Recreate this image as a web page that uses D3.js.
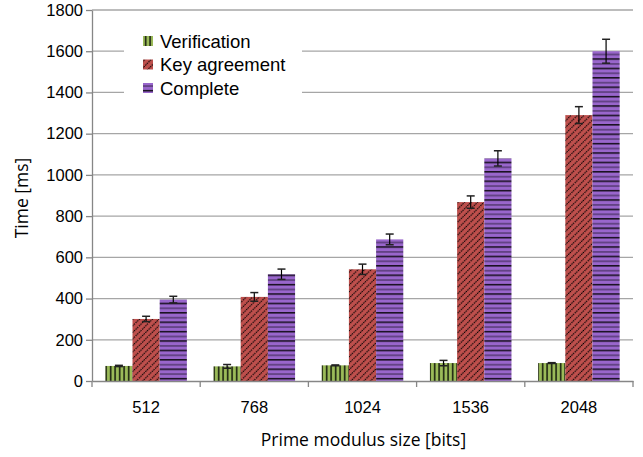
<!DOCTYPE html>
<html>
<head>
<meta charset="utf-8">
<script src="https://cdn.jsdelivr.net/npm/d3@7"></script>
<style>
  body { margin: 0; background: #fff; }
  text { font-family: "Liberation Sans", Arial, sans-serif; fill: #000; }
  .title { font-family: "Open Sans", "Noto Sans", sans-serif; }
</style>
</head>
<body>
<div id="chart"></div>
<script>
let sizes = ["512", "768", "1024", "1536", "2048"];
let seriesNames = ["Verification", "Key agreement", "Complete"];
let verification = [73, 71, 76, 87, 87];
let keyAgreement = [301, 408, 542, 868, 1290];
let complete = [395, 518, 687, 1080, 1600];
let verificationErr = [3, 9, 2, 13, 2];
let keyAgreementErr = [13, 21, 25, 30, 41];
let completeErr = [16, 25, 26, 37, 58];
let yTicks = [0, 200, 400, 600, 800, 1000, 1200, 1400, 1600, 1800];

let dims = { width: 643, height: 457, left: 92, right: 633, top: 10, bottom: 381 }

const svg = d3.select("#chart").append("svg").attr("width", dims.width).attr("height", dims.height);

// patterns
const defs = svg.append("defs");
let pGreen = defs.append("pattern").attr("id", "pat0").attr("patternUnits", "userSpaceOnUse")
  .attr("width", 4.5).attr("height", 10);
pGreen.append("rect").attr("width", 4.5).attr("height", 10).attr("fill", "#9bbb59");
pGreen.append("rect").attr("x", 2).attr("width", 1.3).attr("height", 10).attr("fill", "#000");

let pRed = defs.append("pattern").attr("id", "pat1").attr("patternUnits", "userSpaceOnUse")
  .attr("width", 4.6).attr("height", 4.6).attr("patternTransform", "rotate(45)");
pRed.append("rect").attr("width", 4.6).attr("height", 4.6).attr("fill", "#c0504d");
pRed.append("line").attr("x1", 2.3).attr("y1", 0).attr("x2", 2.3).attr("y2", 4.6)
  .attr("stroke", "#000").attr("stroke-width", 1.2).attr("stroke-dasharray", "1.4,0.9");

let pPurple = defs.append("pattern").attr("id", "pat2").attr("patternUnits", "userSpaceOnUse")
  .attr("width", 10).attr("height", 9.4);
pPurple.append("rect").attr("width", 10).attr("height", 9.4).attr("fill", "#9966cc");
pPurple.append("rect").attr("y", 2).attr("width", 10).attr("height", 1.3).attr("fill", "#000");
pPurple.append("rect").attr("y", 6.7).attr("width", 10).attr("height", 1.6).attr("fill", "#5a3d7a");

const x = d3.scaleBand().domain(sizes).range([dims.left, dims.right]).padding(0);
const xInner = d3.scaleBand().domain(seriesNames).range([0, x.bandwidth()]).paddingInner(0).paddingOuter(0.49);
const y = d3.scaleLinear().domain([0, 1800]).range([dims.bottom, dims.top]);

// gridlines
svg.append("g").selectAll("line").data(yTicks.slice(1)).join("line")
  .attr("x1", dims.left).attr("x2", dims.right)
  .attr("y1", d => y(d)).attr("y2", d => y(d))
  .attr("stroke", "#a6a6a6").attr("stroke-width", 1.3);

// y axis
const yAxis = svg.append("g").attr("transform", `translate(${dims.left},0)`)
  .call(d3.axisLeft(y).tickValues(yTicks).tickFormat(d3.format("d")).tickSize(6).tickPadding(3).tickSizeOuter(0));
yAxis.select(".domain").attr("stroke", "#868686").attr("stroke-width", 1.3);
yAxis.selectAll(".tick line").attr("stroke", "#868686").attr("stroke-width", 1.3);
yAxis.selectAll("text").style("font-size", "16.5px").attr("fill", "#000");

// bars
let allValues = [verification, keyAgreement, complete];
let allErrs = [verificationErr, keyAgreementErr, completeErr];
let barData = [];
sizes.forEach((s, i) => {
  seriesNames.forEach((n, j) => {
    barData.push({ size: s, series: n, k: j, value: allValues[j][i], err: allErrs[j][i] });
  })
})

svg.append("g").selectAll("rect").data(barData).join("rect")
  .attr("x", d => x(d.size) + xInner(d.series))
  .attr("y", d => y(d.value))
  .attr("width", xInner.bandwidth())
  .attr("height", d => y(0) - y(d.value))
  .attr("fill", d => `url(#pat${d.k})`);

// error bars
let eb = svg.append("g").selectAll("g").data(barData).join("g")
  .attr("transform", d => `translate(${x(d.size) + xInner(d.series) + xInner.bandwidth() / 2},0)`);
eb.append("line").attr("y1", d => y(d.value + d.err)).attr("y2", d => y(d.value - d.err))
  .attr("stroke", "#000").attr("stroke-width", 1.2);
eb.append("line").attr("x1", -4).attr("x2", 4).attr("y1", d => y(d.value + d.err)).attr("y2", d => y(d.value + d.err))
  .attr("stroke", "#222").attr("stroke-width", 1.5);
eb.append("line").attr("x1", -4).attr("x2", 4).attr("y1", d => y(d.value - d.err)).attr("y2", d => y(d.value - d.err))
  .attr("stroke", "#222").attr("stroke-width", 1.5);

// x axis
const xAxis = svg.append("g").attr("transform", `translate(0,${dims.bottom})`)
  .call(d3.axisBottom(x).tickSize(0).tickPadding(20));
xAxis.select(".domain").attr("stroke", "#868686").attr("stroke-width", 1.3);
xAxis.selectAll("text").style("font-size", "16.5px").attr("fill", "#000");
svg.append("g").selectAll("line").data(sizes.concat(["end"])).join("line")
  .attr("x1", d => d == "end" ? dims.right : x(d)).attr("x2", d => d == "end" ? dims.right : x(d))
  .attr("y1", dims.bottom).attr("y2", dims.bottom + 6)
  .attr("stroke", "#868686").attr("stroke-width", 1.3);

// titles
svg.append("text").attr("class", "title")
  .attr("x", (dims.left + dims.right) / 2 + 1).attr("y", 446)
  .attr("text-anchor", "middle").style("font-size", "17.5px").text("Prime modulus size [bits]");
svg.append("text").attr("class", "title")
  .attr("transform", `translate(28,198) rotate(-90)`)
  .attr("text-anchor", "middle").style("font-size", "17.5px").text("Time [ms]");

// legend
let legend = svg.append("g");
legend.append("rect").attr("x", 124).attr("y", 26).attr("width", 178).attr("height", 75).attr("fill", "#fff");
let li = legend.selectAll("g").data(seriesNames).join("g")
  .attr("transform", (d, i) => `translate(143,${41 + i * 23.5})`);
li.append("rect").attr("x", 0).attr("y", -5).attr("width", 10).attr("height", 10)
  .attr("fill", (d, i) => `url(#pat${i})`);
li.append("text").attr("x", 17).attr("y", 6.5).style("font-size", "18.5px").text(d => d);
</script>
</body>
</html>
